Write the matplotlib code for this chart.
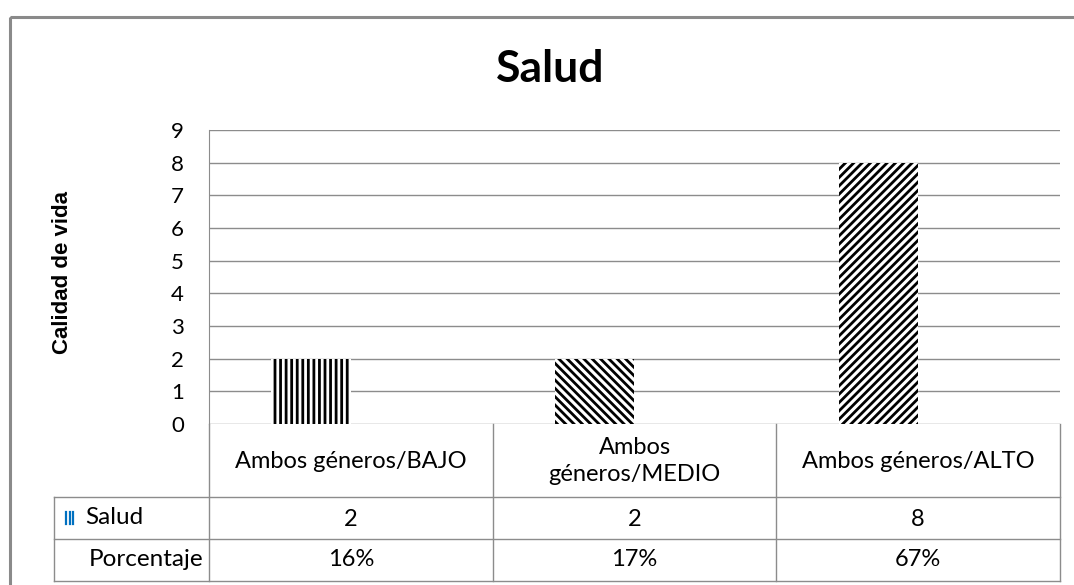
import matplotlib
matplotlib.use("Agg")
import matplotlib.pyplot as plt
from matplotlib.patches import Rectangle

plt.rcParams['font.family'] = ['Lato', 'DejaVu Sans']
plt.rcParams['hatch.linewidth'] = 2.0

title = "Salud"
ylabel = "Calidad de vida"
categories = ["Ambos géneros/BAJO", "Ambos\ngéneros/MEDIO", "Ambos géneros/ALTO"]
salud = [2, 2, 8]
porcentaje = ["16%", "17%", "67%"]
row_labels = ["Salud", "Porcentaje"]
hatches = ["|||", "\\\\\\\\", "////"]
yticks = list(range(0, 10))

W, H = 1074, 585
fig = plt.figure(figsize=(W / 100, H / 100), dpi=100)

# overlay axes in pixel coordinates
ov = fig.add_axes([0, 0, 1, 1])
ov.set_xlim(0, W)
ov.set_ylim(H, 0)
ov.axis('off')

grey = '#8c8c8c'
# outer border
ov.add_patch(Rectangle((10, 17), 1100, 700, fill=False, edgecolor='#8a8a8a', lw=2.2))

L, R, T, B = 209, 1060, 130, 424
ax = fig.add_axes([L / W, 1 - B / H, (R - L) / W, (B - T) / H])
ax.set_xlim(-0.5, len(categories) - 0.5)
ax.set_ylim(0, 9)
ax.set_yticks(yticks)
ax.set_xticks([])
ax.yaxis.grid(True, color=grey, lw=1)
ax.set_axisbelow(True)
for s in ['top', 'right', 'bottom']:
    ax.spines[s].set_visible(False)
ax.spines['left'].set_color(grey)
ax.tick_params(axis='y', length=0, labelsize=16, pad=18, labelcolor='#000000')
ax.patch.set_alpha(0)

bw = 0.28
for i, (v, h) in enumerate(zip(salud, hatches)):
    ax.bar(i - bw / 2, v, width=bw, color='white', edgecolor='black',
           hatch=h, lw=0)

# title and ylabel
ov.text(550, 69, title, ha='center', va='center', fontsize=32, fontweight='bold')
ov.text(62, 272, ylabel, ha='center', va='center', rotation=90, fontsize=16,
        fontweight='bold', family='Liberation Sans')

# table
tl = '#8c8c8c'
colw = (R - L) / 3
xs = [L + k * colw for k in range(4)]
rows_y = [B, 497, 539, 581]
for x in xs:
    ov.plot([x, x], [B, 581], color=tl, lw=1)
ov.plot([54, 54], [497, 581], color=tl, lw=1)
for y in rows_y[1:]:
    ov.plot([54, R], [y, y], color=tl, lw=1)

fs = 17
for i, c in enumerate(categories):
    ov.text(xs[i] + colw / 2, 461, c, ha='center', va='center', fontsize=fs,
            linespacing=1.3)
    ov.text(xs[i] + colw / 2, 519, str(salud[i]), ha='center', va='center', fontsize=fs)
    ov.text(xs[i] + colw / 2, 560, porcentaje[i], ha='center', va='center', fontsize=fs)

ov.text(85, 518, row_labels[0], ha='left', va='center', fontsize=17.5)
ov.text(203, 560, row_labels[1], ha='right', va='center', fontsize=17.5)
# legend key
for dx in (0, 3.5, 7):
    ov.plot([66 + dx, 66 + dx], [512, 524], color='#0070c0', lw=1.6)

fig.savefig('out.png', dpi=100)
